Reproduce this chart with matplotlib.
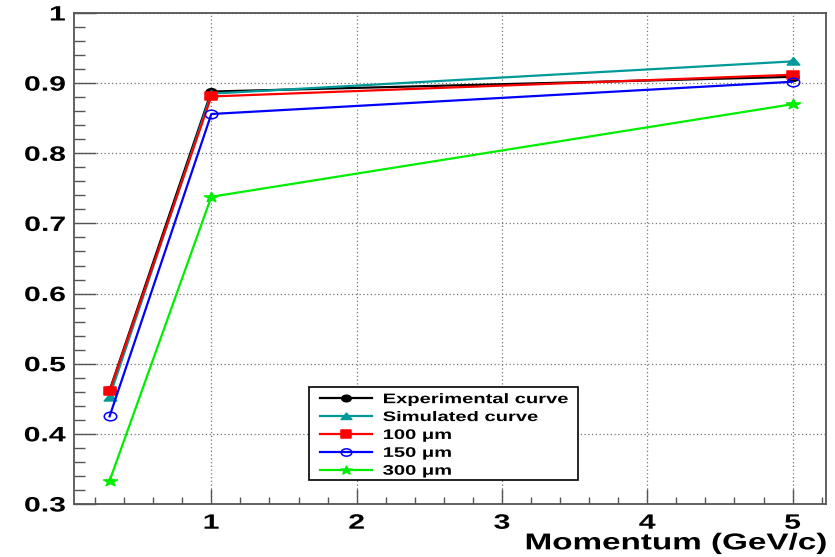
import matplotlib
matplotlib.use("Agg")
import matplotlib.pyplot as plt
from matplotlib.path import Path
from matplotlib.patches import Rectangle
from matplotlib.patheffects import AbstractPathEffect
from matplotlib.ticker import MultipleLocator, FormatStrFormatter
from matplotlib.transforms import Affine2D

plt.rcParams["font.family"] = ["Liberation Sans", "DejaVu Sans"]
plt.rcParams["font.weight"] = "bold"

momentum_gev = [0.3, 1.0, 5.0]

experimental = [0.462, 0.888, 0.909]
simulated = [0.453, 0.885, 0.931]
res_100um = [0.461, 0.881, 0.912]
res_150um = [0.425, 0.856, 0.902]
res_300um = [0.333, 0.738, 0.870]

labels = ["Experimental curve", "Simulated curve",
          "100 \u03bcm", "150 \u03bcm", "300 \u03bcm"]

WIDE = 1.45  # horizontal stretch applied to glyphs and markers


class WideText(AbstractPathEffect):
    """Stretch a text path horizontally about its left, centre or right edge."""

    def __init__(self, sx=WIDE, anchor="left"):
        super().__init__()
        self.sx = sx
        self.anchor = anchor

    def draw_path(self, renderer, gc, tpath, affine, rgbFace=None):
        box = tpath.get_extents(affine)
        if self.anchor == "right":
            x0 = box.x1
        elif self.anchor == "center":
            x0 = 0.5 * (box.x0 + box.x1)
        else:
            x0 = affine.get_matrix()[0, 2]
        stretch = Affine2D().translate(-x0, 0).scale(self.sx, 1).translate(x0, 0)
        renderer.draw_path(gc, tpath, affine + stretch, rgbFace)


def wide_marker(path):
    verts = path.vertices * [WIDE, 1.0]
    return Path(verts, path.codes)


circle = wide_marker(Path.unit_circle())
square = wide_marker(Path.unit_rectangle().transformed(Affine2D().translate(-0.5, -0.5)))
triangle = wide_marker(Path([(-1, -0.8), (1, -0.8), (0, 0.9), (-1, -0.8)],
                            [Path.MOVETO, Path.LINETO, Path.LINETO, Path.CLOSEPOLY]))
star = wide_marker(Path.unit_regular_star(5, 0.4))

series = [
    (experimental, "black", circle, "black", 8),
    (simulated, "#009999", triangle, "#009999", 9),
    (res_100um, "red", square, "red", 9),
    (res_150um, "blue", circle, "none", 9),
    (res_300um, "#00ee00", star, "#00ee00", 10),
]

fig = plt.figure(figsize=(8.35, 5.57), dpi=100)
ax = fig.add_axes([74 / 835, 53 / 557, 752 / 835, 491 / 557])

handles = []
for (values, color, marker, face, size), label in zip(series, labels):
    line, = ax.plot(
        momentum_gev,
        values,
        color=color,
        linewidth=1.6,
        marker=marker,
        markersize=size,
        markerfacecolor=face,
        markeredgecolor=color,
        markeredgewidth=1.1,
        label=label,
    )
    handles.append(line)

ax.set_xlim(0.055, 5.23)
ax.set_ylim(0.3, 1.0)

ax.xaxis.set_major_locator(MultipleLocator(1))
ax.xaxis.set_minor_locator(MultipleLocator(0.2))
ax.yaxis.set_major_locator(MultipleLocator(0.1))
ax.yaxis.set_minor_locator(MultipleLocator(0.02))
ax.yaxis.set_major_formatter(FormatStrFormatter("%g"))

ax.tick_params(axis="both", which="both", direction="in", top=False, right=False,
               colors="#555555", labelcolor="black", width=1.0)
ax.tick_params(axis="y", which="major", length=15.8, labelsize=15, pad=6)
ax.tick_params(axis="y", which="minor", length=7.9)
ax.tick_params(axis="x", which="major", length=10.6, labelsize=15, pad=7)
ax.tick_params(axis="x", which="minor", length=5.3)

for tick_label in ax.get_yticklabels():
    tick_label.set_fontweight("bold")
    tick_label.set_path_effects([WideText(anchor="right")])
for tick_label in ax.get_xticklabels():
    tick_label.set_fontweight("bold")
    tick_label.set_path_effects([WideText(anchor="center")])

ax.grid(True, which="major", color="#777777", linestyle=(0, (1, 2)), linewidth=0.9)

for spine in ax.spines.values():
    spine.set_color("#555555")
    spine.set_linewidth(1.3)

xlabel = ax.set_xlabel("Momentum (GeV/c)", loc="right", fontsize=16.5,
                       fontweight="bold", labelpad=-1)
xlabel.set_path_effects([WideText(anchor="right")])

# legend box drawn separately so it fits the widened labels
box_left, box_top, box_right, box_bottom = 309, 387, 578, 480
ax.add_patch(Rectangle(
    ((box_left - 74) / 752, (504 - box_bottom) / 491),
    (box_right - box_left) / 752,
    (box_bottom - box_top) / 491,
    transform=ax.transAxes,
    facecolor="white",
    edgecolor="black",
    linewidth=1.2,
    zorder=5,
))

legend = ax.legend(
    handles=handles,
    loc="upper left",
    bbox_to_anchor=((316 - 74) / 752, (504 - 388) / 491),
    frameon=False,
    handlelength=3.7,
    handletextpad=0.8,
    labelspacing=0.28,
    borderpad=0.3,
    borderaxespad=0,
    markerscale=0.85,
    prop={"weight": "bold", "size": 10},
)
legend.set_zorder(6)
for text in legend.get_texts():
    text.set_path_effects([WideText(anchor="left")])

fig.savefig("out.png", dpi=100)
